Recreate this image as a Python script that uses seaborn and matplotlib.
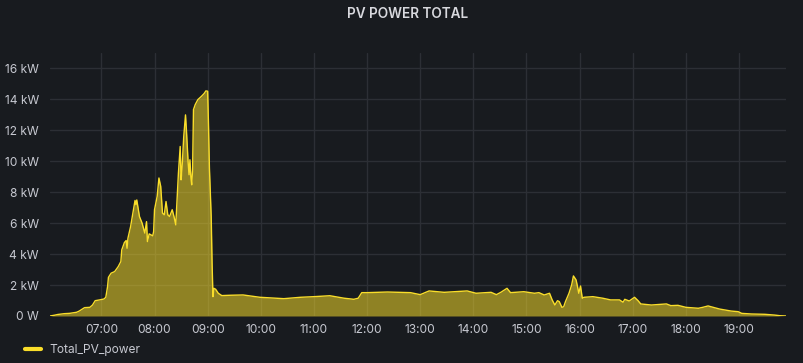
import matplotlib
matplotlib.use("Agg")
import matplotlib.pyplot as plt
from matplotlib.lines import Line2D
import seaborn as sns
import pandas as pd

# ---- data ----
times = [
    "06:02", "06:07", "06:11", "06:18", "06:24", "06:32", "06:35", "06:41", "06:47", "06:50",
    "06:53", "06:58", "07:03", "07:05", "07:07", "07:08", "07:11", "07:15", "07:19", "07:22",
    "07:23", "07:26", "07:28", "07:29", "07:30", "07:33", "07:38", "07:39", "07:40", "07:43",
    "07:46", "07:49", "07:51", "07:52", "07:54", "07:58", "07:59", "08:00", "08:03", "08:05",
    "08:07", "08:09", "08:11", "08:13", "08:15", "08:17", "08:20", "08:22", "08:24", "08:26",
    "08:27", "08:29", "08:30", "08:31", "08:33", "08:35", "08:36", "08:38", "08:39", "08:40",
    "08:41", "08:42", "08:43", "08:44", "08:46", "08:49", "08:53", "08:56", "08:58", "09:00",
    "09:01", "09:02", "09:04", "09:05", "09:06", "09:07", "09:09", "09:12", "09:16", "09:25",
    "09:40", "09:59", "10:26", "10:45", "11:00", "11:18", "11:34", "11:45", "11:50", "11:54",
    "12:00", "12:23", "12:38", "12:49", "13:00", "13:10", "13:27", "13:53", "14:03", "14:20",
    "14:26", "14:31", "14:38", "14:42", "14:57", "15:09", "15:14", "15:20", "15:26", "15:29",
    "15:32", "15:35", "15:37", "15:40", "15:42", "15:44", "15:48", "15:51", "15:53", "15:56",
    "15:58", "15:59", "16:01", "16:03", "16:05", "16:15", "16:26", "16:35", "16:45", "16:49",
    "16:51", "16:56", "17:02", "17:06", "17:09", "17:21", "17:38", "17:43", "17:51", "18:00",
    "18:14", "18:19", "18:25", "18:31", "18:38", "18:44", "18:51", "18:59", "19:03", "19:14",
    "19:29", "19:40", "19:46", "19:53",
]
power_kw = [
    0.00, 0.05, 0.10, 0.15, 0.17, 0.24, 0.32, 0.54, 0.56, 0.71,
    0.99, 1.04, 1.10, 1.21, 1.90, 2.50, 2.77, 2.87, 3.19, 3.52,
    4.27, 4.75, 4.88, 4.38, 5.03, 5.78, 7.47, 7.20, 7.50, 6.43,
    6.00, 5.36, 6.10, 4.81, 5.31, 5.18, 5.46, 6.87, 7.73, 8.92,
    8.38, 6.65, 6.54, 7.40, 6.54, 6.43, 6.87, 6.43, 5.89, 8.16,
    9.24, 10.96, 8.80, 9.46, 11.60, 13.00, 12.05, 9.89, 9.13, 10.10,
    9.02, 8.48, 9.46, 13.34, 13.67, 13.99, 14.20, 14.38, 14.55, 14.53,
    12.26, 9.56, 6.43, 3.41, 1.25, 1.79, 1.73, 1.47, 1.32, 1.34,
    1.36, 1.21, 1.12, 1.21, 1.25, 1.31, 1.15, 1.08, 1.15, 1.51,
    1.51, 1.55, 1.53, 1.51, 1.38, 1.62, 1.53, 1.62, 1.47, 1.53,
    1.38, 1.53, 1.79, 1.51, 1.57, 1.47, 1.51, 1.36, 1.47, 1.04,
    0.71, 0.99, 0.93, 0.56, 0.60, 0.93, 1.47, 2.01, 2.59, 2.33,
    1.79, 1.47, 1.94, 1.15, 1.21, 1.25, 1.15, 1.04, 1.04, 0.89,
    1.08, 0.97, 1.21, 0.99, 0.78, 0.71, 0.78, 0.67, 0.69, 0.56,
    0.50, 0.56, 0.65, 0.56, 0.45, 0.39, 0.32, 0.28, 0.17, 0.13,
    0.11, 0.06, 0.02, 0.00,
]
x_tick_labels = ["07:00", "08:00", "09:00", "10:00", "11:00", "12:00", "13:00",
                 "14:00", "15:00", "16:00", "17:00", "18:00", "19:00"]
y_ticks_kw = [0, 2, 4, 6, 8, 10, 12, 14, 16]
y_tick_labels = ["0 W", "2 kW", "4 kW", "6 kW", "8 kW", "10 kW", "12 kW", "14 kW", "16 kW"]
series_name = "Total_PV_power"
title = "PV POWER TOTAL"

# ---- style ----
BG = "#181b1f"
GRID = "#2c2f35"
TEXT = "#c7c9d1"
YELLOW = "#fade2a"

sns.set_theme(style="dark")
plt.rcParams["font.family"] = ["Inter", "DejaVu Sans"]

df = pd.DataFrame({"time": times, "power": power_kw})
df["hour"] = pd.to_timedelta(df["time"] + ":00").dt.total_seconds() / 3600.0
tick_hours = pd.to_timedelta(pd.Series(x_tick_labels) + ":00").dt.total_seconds() / 3600.0

fig = plt.figure(figsize=(8.04, 3.63), dpi=100, facecolor=BG)
ax = fig.add_axes([50 / 804, 1 - 316 / 363, (786 - 50) / 804, (316 - 53) / 363])
ax.set_facecolor(BG)

ax.fill_between(df["hour"], 0, df["power"], color=YELLOW, alpha=0.53, linewidth=0, zorder=2)
sns.lineplot(data=df, x="hour", y="power", ax=ax, color=YELLOW, linewidth=1.0,
             legend=False, zorder=3)

ax.set_xlim(df["hour"].min(), df["hour"].max())
ax.set_ylim(0, 17)
ax.set_xticks(tick_hours)
ax.set_xticklabels(x_tick_labels)
ax.set_yticks(y_ticks_kw)
ax.set_yticklabels(y_tick_labels)
ax.set_xlabel("")
ax.set_ylabel("")

ax.grid(True, color=GRID, linewidth=1.0, zorder=0)
ax.tick_params(axis="both", length=0, colors=TEXT, labelsize=8.6)
ax.tick_params(axis="x", pad=6)
ax.tick_params(axis="y", pad=8)
for s in ax.spines.values():
    s.set_visible(False)

fig.text(0.507, 1 - 14 / 363, title, ha="center", va="center", color="#d8d9de",
         fontsize=9.8, fontweight="semibold")

handle = Line2D([0], [0], color=YELLOW, linewidth=3)
fig.legend([handle], [series_name], loc="center left", bbox_to_anchor=(0.018, 1 - 350 / 363),
           frameon=False, handlelength=1.3, handletextpad=0.7, labelcolor=TEXT,
           prop={"size": 8.6})

fig.savefig("out.png", dpi=100, facecolor=BG)
